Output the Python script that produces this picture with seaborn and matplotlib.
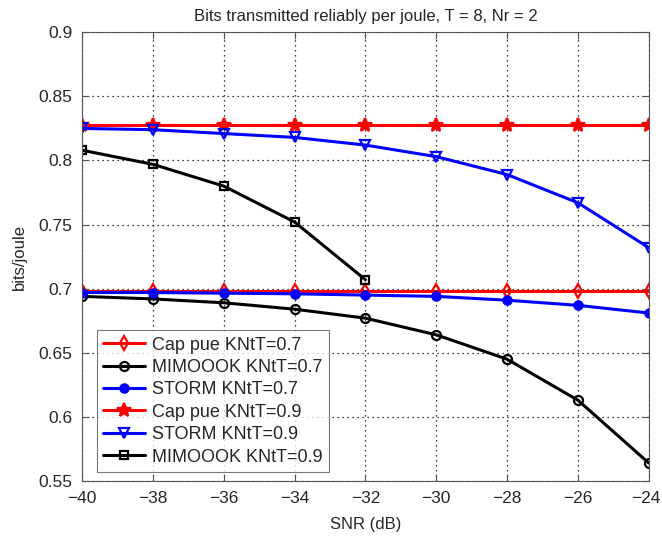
import numpy as np
import pandas as pd
import seaborn as sns
import matplotlib.pyplot as plt
import matplotlib.transforms as mtransforms

snr = [-40, -38, -36, -34, -32, -30, -28, -26, -24]

cap_07 = [0.698, 0.698, 0.698, 0.698, 0.698, 0.698, 0.698, 0.698, 0.698]
mimoook_07 = [0.694, 0.692, 0.689, 0.684, 0.677, 0.664, 0.645, 0.613, 0.564]
storm_07 = [0.697, 0.697, 0.6965, 0.696, 0.695, 0.694, 0.691, 0.687, 0.681]
cap_09 = [0.828, 0.828, 0.828, 0.828, 0.828, 0.828, 0.828, 0.828, 0.828]
storm_09 = [0.825, 0.824, 0.821, 0.818, 0.812, 0.803, 0.789, 0.767, 0.732]
snr_mimo09 = [-40, -38, -36, -34, -32]
mimoook_09 = [0.808, 0.797, 0.780, 0.752, 0.707]

sns.set_style("ticks")
plt.rcParams['font.family'] = ['Liberation Sans', 'DejaVu Sans']

fig = plt.figure(figsize=(6.62, 5.38), dpi=100)
ax = fig.add_axes([0.124, 0.106, 0.856, 0.834])

series = [
    ("Cap pue KNtT=0.7", snr, cap_07, "red", "d", "none", 7),
    ("MIMOOOK KNtT=0.7", snr, mimoook_07, "black", "o", "none", 6.5),
    ("STORM KNtT=0.7", snr, storm_07, "blue", "o", "blue", 6),
    ("Cap pue KNtT=0.9", snr, cap_09, "red", "*", "red", 10),
    ("STORM KNtT=0.9", snr, storm_09, "blue", "v", "none", 7),
    ("MIMOOOK KNtT=0.9", snr_mimo09, mimoook_09, "black", "s", "none", 5.5),
]

for name, x, y, col, mk, face, ms in series:
    sns.lineplot(x=x, y=y, ax=ax, color=col, marker=mk, markersize=ms,
                 markerfacecolor=face, markeredgecolor=col, markeredgewidth=1.6,
                 linewidth=2.2, label=name)

ax.set_xlim(-40, -24)
ax.set_ylim(0.55, 0.9)
ax.set_xticks(np.arange(-40, -23, 2))
ax.set_yticks(np.arange(0.55, 0.901, 0.05))
ax.set_xticklabels([f"\u2212{abs(v)}" for v in range(-40, -23, 2)])
ax.set_yticklabels(["0.55", "0.6", "0.65", "0.7", "0.75", "0.8", "0.85", "0.9"])
ax.tick_params(direction="in", top=True, right=True, labelsize=12.5, length=5,
               color="#555555", pad=7)
for s in ax.spines.values():
    s.set_visible(True)
    s.set_color("#555555")
    s.set_linewidth(0.8)
ax.grid(True, linestyle=(0, (1, 3)), color="black", linewidth=0.9)

# keep the last x tick label inside the figure
last = ax.get_xticklabels()[-1]
last.set_transform(last.get_transform() + mtransforms.ScaledTranslation(-3 / 100, 0, fig.dpi_scale_trans))

ax.set_title("Bits transmitted reliably per joule, T = 8, Nr = 2", fontsize=12, pad=8)
ax.set_xlabel("SNR (dB)", fontsize=12, labelpad=8)
ax.set_ylabel("bits/joule", fontsize=12, labelpad=8)

leg = ax.legend(loc="lower left", bbox_to_anchor=(0.01, 0.0), fontsize=13,
                frameon=True, fancybox=False, edgecolor="#555555",
                handlelength=2.3, borderpad=0.35, labelspacing=0.3, handletextpad=0.4)
leg.get_frame().set_linewidth(0.8)

fig.savefig("out.png", dpi=100)
